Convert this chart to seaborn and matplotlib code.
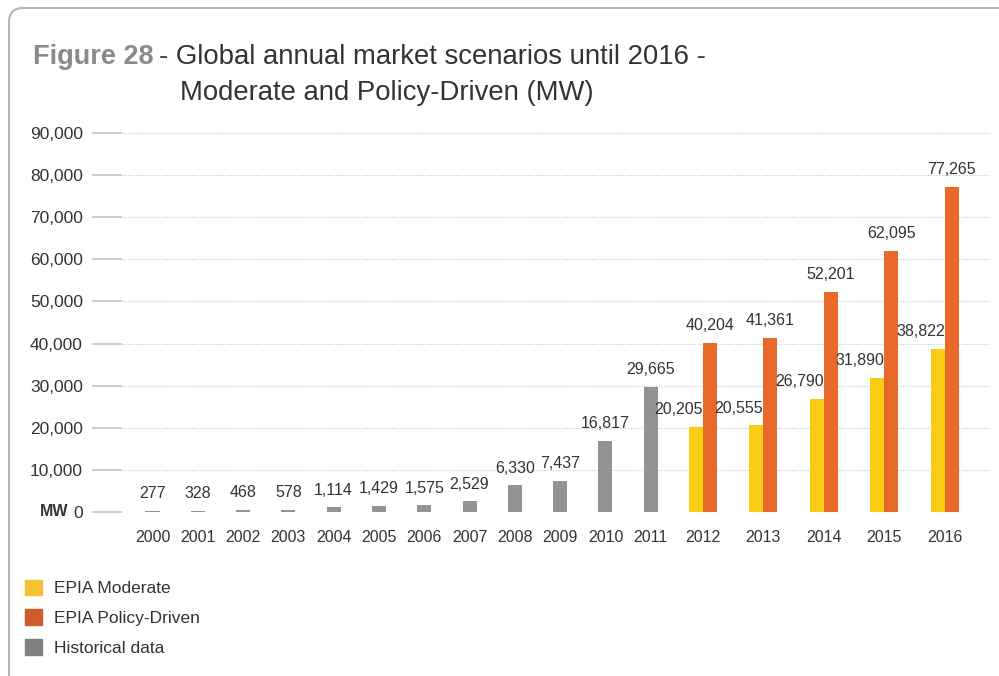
import numpy as np
import pandas as pd
import matplotlib
matplotlib.use("Agg")
import matplotlib.pyplot as plt
from matplotlib.patches import FancyBboxPatch, Patch
import seaborn as sns

# Dados
anos_hist = [2000, 2001, 2002, 2003, 2004, 2005, 2006, 2007, 2008, 2009, 2010, 2011]
historico = [277, 328, 468, 578, 1114, 1429, 1575, 2529, 6330, 7437, 16817, 29665]
anos_cenario = [2012, 2013, 2014, 2015, 2016]
moderado = [20205, 20555, 26790, 31890, 38822]
politica = [40204, 41361, 52201, 62095, 77265]
y_ticks = [0, 10000, 20000, 30000, 40000, 50000, 60000, 70000, 80000, 90000]
legenda = ["EPIA Moderate", "EPIA Policy-Driven", "Historical data"]

# Cores
COR_HIST = "#939393"
COR_MOD = "#FACC14"
COR_POL = "#E8692A"
COR_TEXTO = "#333333"

sns.set_theme(style="white")
plt.rcParams['font.family'] = ['Liberation Sans', 'DejaVu Sans']

# Posições no eixo x (anos históricos mais próximos, cenários mais espaçados)
pos_hist = np.arange(len(anos_hist), dtype=float)
pos_cen = 12.15 + 1.336 * np.arange(len(anos_cenario))
larg = 0.31

df_hist = pd.DataFrame({"pos": pos_hist, "valor": historico})
df_mod = pd.DataFrame({"pos": pos_cen - larg / 2, "valor": moderado})
df_pol = pd.DataFrame({"pos": pos_cen + larg / 2, "valor": politica})

fig = plt.figure(figsize=(9.99, 6.76), dpi=100)
ax = fig.add_axes([122 / 999, (676 - 512) / 676, (990 - 122) / 999, (512 - 133) / 676])

sns.barplot(data=df_hist, x="pos", y="valor", native_scale=True, color=COR_HIST,
            saturation=1, width=larg / 1.0, errorbar=None, linewidth=0, ax=ax)
sns.barplot(data=df_mod, x="pos", y="valor", native_scale=True, color=COR_MOD,
            saturation=1, width=larg / 1.336, errorbar=None, linewidth=0, ax=ax)
sns.barplot(data=df_pol, x="pos", y="valor", native_scale=True, color=COR_POL,
            saturation=1, width=larg / 1.336, errorbar=None, linewidth=0, ax=ax)

ax.set_xlim(-0.673, 18.49)
ax.set_ylim(0, 90000)
ax.set_xlabel("")
ax.set_ylabel("")
for s in ax.spines.values():
    s.set_visible(False)

# Eixo y
ax.set_yticks(y_ticks)
ax.set_yticklabels([f"{v:,}" for v in y_ticks])
ax.tick_params(axis="y", length=21.6, width=1.2, color="#c4c4c4", pad=6.5,
               labelsize=12.5, labelcolor=COR_TEXTO, left=True, direction="out")
ax.yaxis.grid(True, linestyle=(0, (1, 1.5)), color="#c4c4c4", linewidth=0.8)
ax.set_axisbelow(True)

# Eixo x
ax.set_xticks(np.concatenate([pos_hist, pos_cen]))
ax.set_xticklabels([str(a) for a in anos_hist + anos_cenario])
ax.tick_params(axis="x", length=0, pad=13, labelsize=11.5, labelcolor=COR_TEXTO)

# Rótulos dos valores
for p, v in zip(pos_hist, historico):
    ax.annotate(f"{v:,}", (p, v), xytext=(0, 7), textcoords="offset points",
                ha="center", va="bottom", fontsize=11.5, color=COR_TEXTO)
for p, v in zip(pos_cen, moderado):
    ax.annotate(f"{v:,}", (p, v), xytext=(0, 7), textcoords="offset points",
                ha="right", va="bottom", fontsize=11.5, color=COR_TEXTO)
for p, v in zip(pos_cen + larg / 2, politica):
    ax.annotate(f"{v:,}", (p, v), xytext=(0, 7), textcoords="offset points",
                ha="center", va="bottom", fontsize=11.5, color=COR_TEXTO)

# MW
fig.text(68 / 999, (676 - 512) / 676, "MW", ha="right", va="center",
         fontsize=11.5, fontweight="bold", color=COR_TEXTO)

# Título
fig.text(33 / 999, (676 - 64) / 676, "Figure 28", ha="left", va="baseline",
         fontsize=19.5, color="#8a8a8a", fontweight="bold")
fig.text(159 / 999, (676 - 64) / 676, "- Global annual market scenarios until 2016 -",
         ha="left", va="baseline", fontsize=19.8, color=COR_TEXTO)
fig.text(180 / 999, (676 - 100) / 676, "Moderate and Policy-Driven (MW)",
         ha="left", va="baseline", fontsize=19.8, color=COR_TEXTO)

# Legenda
handles = [Patch(color="#F2C232"), Patch(color="#D0592E"), Patch(color="#818181")]
fig.legend(handles, legenda, loc="upper left", bbox_to_anchor=(9 / 999, (676 - 564) / 676),
           frameon=False, fontsize=12.5, handlelength=1.0, handleheight=1.0,
           labelspacing=0.75, handletextpad=0.7, labelcolor=COR_TEXTO)

# Moldura arredondada
moldura = FancyBboxPatch((0.09, -1.0), 12.0, 7.68, boxstyle="round,pad=0,rounding_size=0.14",
                         transform=fig.dpi_scale_trans, facecolor="none",
                         edgecolor="#b5b5b5", linewidth=1.5)
fig.patches.append(moldura)

fig.savefig("out.png", dpi=100)
